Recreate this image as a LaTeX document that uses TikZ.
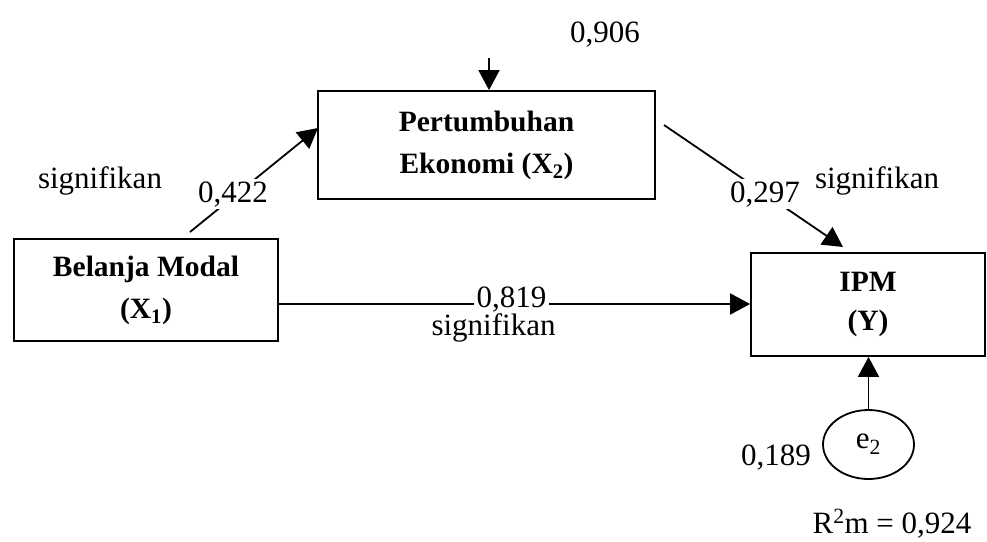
\documentclass[tikz,border=0pt]{standalone}
\usepackage{fontspec}
\setmainfont{Liberation Serif}
\usetikzlibrary{arrows.meta,shapes.geometric}
\begin{document}
\begin{tikzpicture}[x=1pt,y=-1pt,
  box/.style={draw,line width=1.8pt,rectangle,inner sep=0pt,align=center,
    font=\fontsize{29.5}{42}\selectfont\bfseries},
  lbl/.style={anchor=base,inner sep=2pt,font=\fontsize{31}{36}\selectfont},
  wlbl/.style={lbl,fill=white},
  arr/.style={line width=1.8pt,-{Triangle[length=20pt,width=21pt]}}]
\useasboundingbox (0,0) rectangle (987,541);
% boxes
\node[box,minimum width=264pt,minimum height=102pt] (X1) at (146,290)
  {Belanja Modal\\(X\textsubscript{1})};
\node[box,minimum width=337pt,minimum height=108pt] (X2) at (486.5,145)
  {Pertumbuhan\\Ekonomi (X\textsubscript{2})};
\node[box,minimum width=234pt,minimum height=103pt,
  font=\fontsize{29.5}{39}\selectfont\bfseries] (Y) at (868,304.5)
  {IPM\\(Y)};
\node[draw,line width=1.8pt,ellipse,minimum width=91pt,minimum height=69pt,inner sep=0pt,
  font=\fontsize{31}{36}\selectfont] (e2) at (868.5,444.5) {e\textsubscript{2}};
% coordinates
\coordinate (t906) at (489,58);
\coordinate (lv) at (0,304);
\coordinate (a1) at (190,232);
\coordinate (a2) at (318,128);
\coordinate (b1) at (664,125);
\coordinate (b2) at (843,247);
% connectors
\draw[arr] (t906) -- (t906 |- X2.north);
\draw[arr] (a1) -- (a2);
\draw[arr] (b1) -- (b2);
\draw[arr] (X1.east |- lv) -- (Y.west |- lv);
\draw[arr] (e2.north) -- (e2.north |- Y.south);
% labels
\node[lbl] (l906) at (605,42) {0,906};
\node[lbl] (s1) at (100,188) {signifikan};
\node[wlbl] (l422) at (233,202) {0,422};
\node[wlbl] (l297) at (765,202) {0,297};
\node[lbl] (s2) at (877,188) {signifikan};
\node[wlbl,inner xsep=3pt] (l819) at (511.5,307) {0,819};
\node[lbl] (s3) at (493.5,335) {signifikan};
\node[lbl] (l189) at (776,465) {0,189};
\node[lbl] (r2) at (892,533) {R\textsuperscript{2}m = 0,924};
\end{tikzpicture}
\end{document}
